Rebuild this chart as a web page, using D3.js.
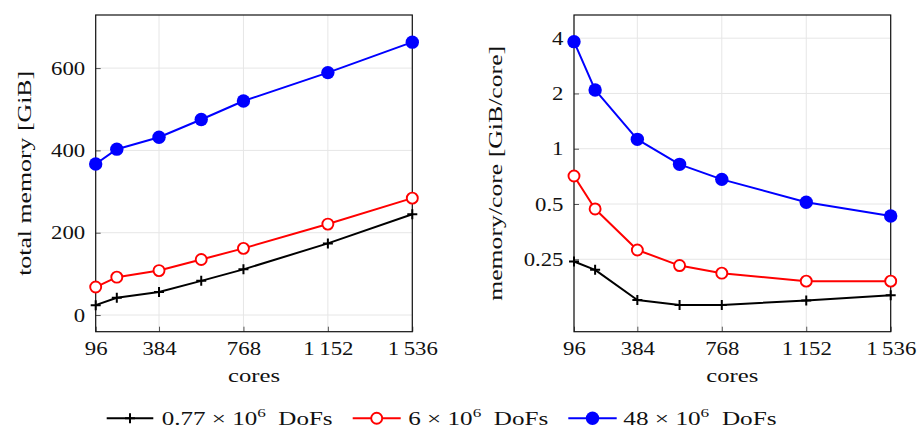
<!DOCTYPE html>
<html>
<head>
<meta charset="utf-8">
<script src="https://cdn.jsdelivr.net/npm/d3@7"></script>
<style>
  html, body { margin: 0; padding: 0; background: #fff; }
  svg { display: block; }
  text { font-family: "Liberation Serif", "DejaVu Serif", serif; fill: #111; }
</style>
</head>
<body>
<svg id="chart" width="919" height="429"></svg>
<script>
// Memory footprint of the solver for three problem sizes
const cores = [96, 192, 384, 576, 768, 1152, 1536];

const totalSmall  = [24, 42, 56, 83, 111, 174, 245];
const totalMedium = [68, 92, 108, 135, 162, 221, 284];
const totalLarge  = [367, 403, 432, 475, 520, 589, 663];

const perCoreSmall  = [0.243, 0.219, 0.150, 0.141, 0.141, 0.149, 0.159];
const perCoreMedium = [0.710, 0.470, 0.281, 0.231, 0.210, 0.190, 0.190];
const perCoreLarge  = [3.83, 2.09, 1.125, 0.822, 0.681, 0.511, 0.430];

const seriesNames = ["0.77", "6", "48"];

const xTicks = [96, 384, 768, 1152, 1536];
const xTickLabels = ["96", "384", "768", "1\u2009152", "1\u2009536"];
const leftYTicks = [0, 200, 400, 600];
const rightYTicks = [0.25, 0.5, 1, 2, 4];
const rightYTickLabels = ["0.25", "0.5", "1", "2", "4"];

const svg = d3.select("#chart");
const FONT = 19;
const SX = 1.2;            // horizontal widening of glyphs

const styles = [
  { color: "#000000", marker: "plus" },
  { color: "#ff0000", marker: "ring" },
  { color: "#0000ff", marker: "dot" }
];

function drawMarker(g, kind, color, x, y) {
  if (kind === "plus") {
    g.append("path")
      .attr("d", `M${x - 5},${y}H${x + 5}M${x},${y - 5}V${y + 5}`)
      .attr("stroke", color).attr("stroke-width", 2).attr("fill", "none");
  } else if (kind === "ring") {
    g.append("circle").attr("cx", x).attr("cy", y).attr("r", 5.5)
      .attr("fill", "#fff").attr("stroke", color).attr("stroke-width", 1.9);
  } else {
    g.append("circle").attr("cx", x).attr("cy", y).attr("r", 6.7)
      .attr("fill", color);
  }
}

// place a text with its glyphs stretched horizontally to a target width
function fitText(sel, target) {
  sel.each(function () {
    const w = this.getComputedTextLength();
    const s = target / w;
    const t = d3.select(this);
    t.attr("transform", t.attr("data-base") + ` scale(${s},1)`);
  });
}

function panel(opts) {
  const { left, right, top, bottom } = opts;
  const g = svg.append("g");
  const x = d3.scaleLinear().domain([96, 1536]).range([left, right]);
  const y = opts.y.range([bottom, top]);

  // grid
  g.append("g").selectAll("line").data(xTicks).join("line")
    .attr("x1", d => x(d)).attr("x2", d => x(d))
    .attr("y1", top).attr("y2", bottom)
    .attr("stroke", "#e6e6e6").attr("stroke-width", 1);
  g.append("g").selectAll("line").data(opts.yTicks).join("line")
    .attr("x1", left).attr("x2", right)
    .attr("y1", d => y(d)).attr("y2", d => y(d))
    .attr("stroke", "#e6e6e6").attr("stroke-width", 1);

  // axes
  const xAxis = d3.axisBottom(x).tickValues(xTicks)
    .tickFormat((d, i) => xTickLabels[i]).tickSize(-5).tickPadding(10);
  const gx = g.append("g").attr("transform", `translate(0,${bottom})`).call(xAxis);
  gx.select(".domain").remove();
  gx.selectAll(".tick line").attr("stroke", "#555");
  gx.selectAll(".tick text")
    .attr("font-size", FONT).attr("font-family", null)
    .attr("transform", `scale(${SX},1)`);

  const yAxis = d3.axisLeft(y).tickValues(opts.yTicks)
    .tickFormat((d, i) => opts.yTickLabels[i]).tickSize(-5).tickPadding(0);
  const gy = g.append("g").attr("transform", `translate(${left},0)`).call(yAxis);
  gy.select(".domain").remove();
  gy.selectAll(".tick line").attr("stroke", "#555");
  gy.selectAll(".tick text")
    .attr("font-size", FONT).attr("font-family", null)
    .attr("x", -10.5 / SX)
    .attr("transform", `scale(${SX},1)`);

  // frame
  g.append("rect").attr("x", left).attr("y", top)
    .attr("width", right - left).attr("height", bottom - top)
    .attr("fill", "none").attr("stroke", "#111").attr("stroke-width", 1.2);

  // series
  const line = d3.line().x(d => x(d[0])).y(d => y(d[1]));
  opts.series.forEach((vals, k) => {
    const pts = cores.map((c, i) => [c, vals[i]]);
    const sg = g.append("g");
    sg.append("path").attr("d", line(pts)).attr("fill", "none")
      .attr("stroke", styles[k].color).attr("stroke-width", 2)
      .attr("stroke-linejoin", "round");
    pts.forEach(p => drawMarker(sg, styles[k].marker, styles[k].color, x(p[0]), y(p[1])));
  });

  // axis titles
  const cx = (left + right) / 2;
  svg.append("text").attr("text-anchor", "middle").attr("font-size", FONT)
    .attr("data-base", `translate(${cx},381.5)`)
    .text("cores").call(fitText, 52);
  svg.append("text").attr("text-anchor", "middle").attr("font-size", FONT)
    .attr("data-base", `translate(${opts.titleX},${(top + bottom) / 2}) rotate(-90)`)
    .text(opts.title).call(fitText, opts.titleLen);
}

panel({
  left: 95.7, right: 412.3, top: 15, bottom: 331.7,
  y: d3.scaleLinear().domain([-40.5, 729]),
  yTicks: leftYTicks, yTickLabels: leftYTicks.map(String),
  series: [totalSmall, totalMedium, totalLarge],
  title: "total memory [GiB]", titleX: 31, titleLen: 205
});

panel({
  left: 574, right: 890.7, top: 15, bottom: 331.7,
  y: d3.scaleLog().base(2).domain([0.1008, 5.35]),
  yTicks: rightYTicks, yTickLabels: rightYTickLabels,
  series: [perCoreSmall, perCoreMedium, perCoreLarge],
  title: "memory/core [GiB/core]", titleX: 501.5, titleLen: 255
});

// legend
const legendItems = [
  { x0: 106.7, x1: 153.3, tx: 161.7, w: 171 },
  { x0: 352.7, x1: 400.7, tx: 408.3, w: 140 },
  { x0: 568.3, x1: 616.7, tx: 623.3, w: 153.4 }
];
const lg = svg.append("g");
legendItems.forEach((it, k) => {
  const ly = 418.3;
  lg.append("line").attr("x1", it.x0).attr("x2", it.x1).attr("y1", ly).attr("y2", ly)
    .attr("stroke", styles[k].color).attr("stroke-width", 2);
  drawMarker(lg, styles[k].marker, styles[k].color, (it.x0 + it.x1) / 2, ly);
  const t = lg.append("text").attr("font-size", FONT)
    .attr("data-base", `translate(${it.tx},424.5)`);
  t.append("tspan").text(seriesNames[k] + " \u00d7 10");
  t.append("tspan").attr("font-size", 13).attr("dy", -8).text("6");
  t.append("tspan").attr("dy", 8).text("\u00a0\u00a0DoFs");
  t.call(fitText, it.w);
});
</script>
</body>
</html>
